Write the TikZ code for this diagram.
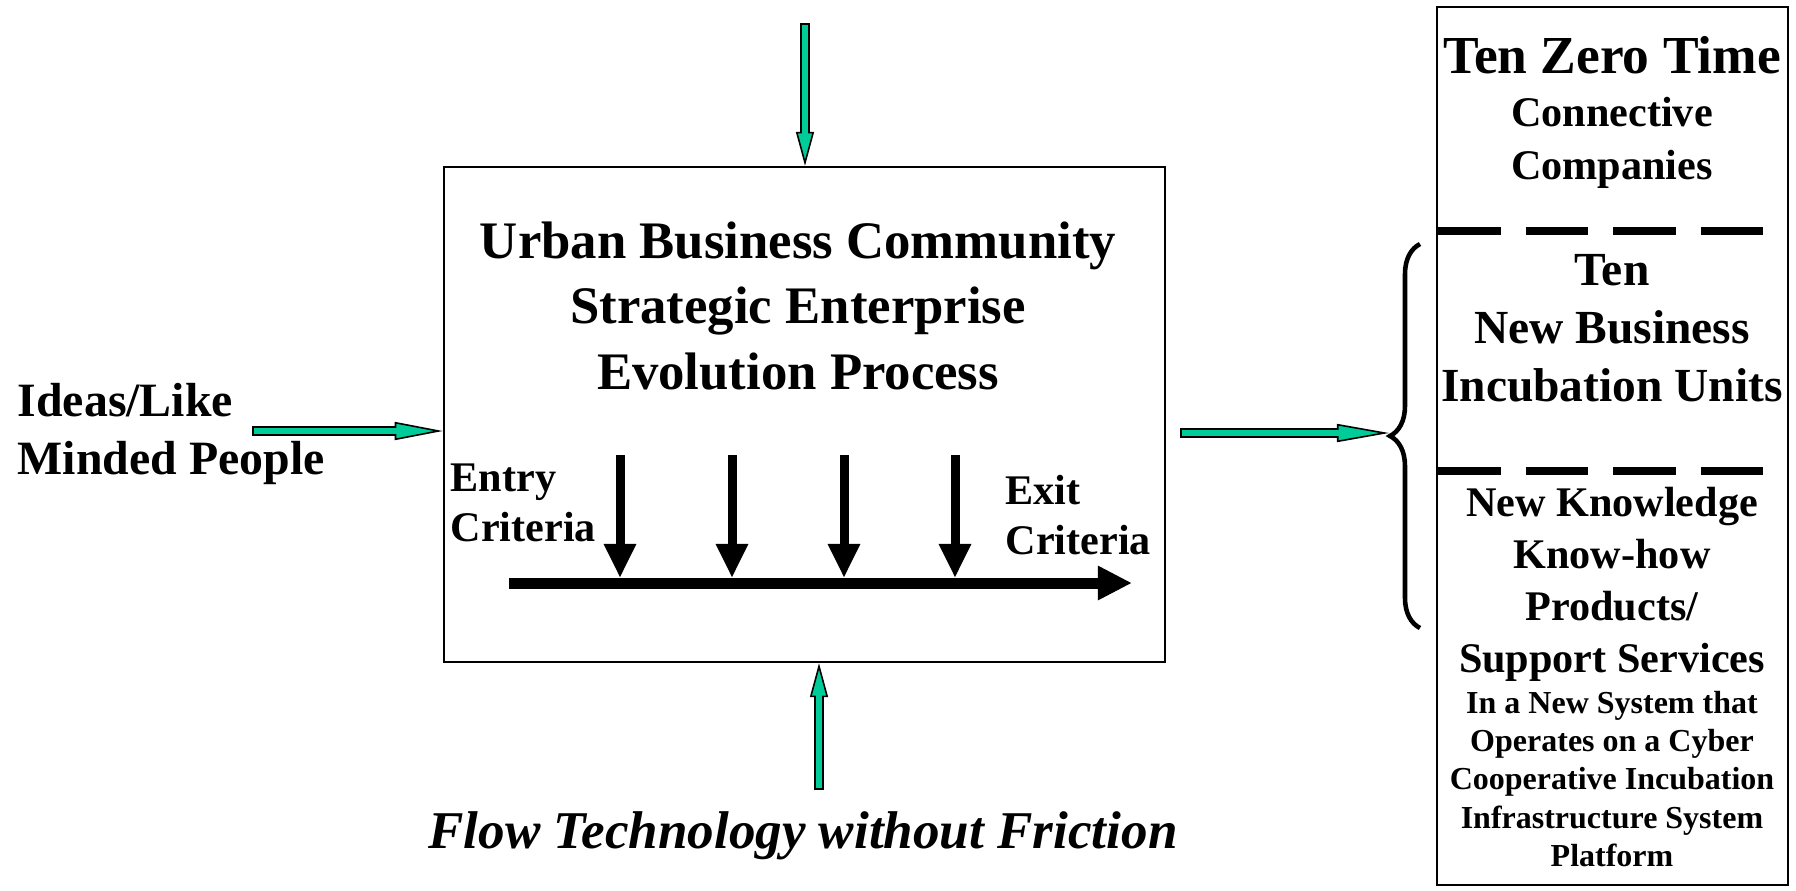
\documentclass[tikz,border=0pt]{standalone}
\usepackage{fontspec}
\setmainfont{Liberation Serif}
\usetikzlibrary{arrows.meta,decorations.pathreplacing}

\definecolor{flowgreen}{RGB}{0,204,153}

\tikzset{
  txt/.style={font=\bfseries, align=center, inner sep=0pt},
  panel/.style={draw, line width=0.6pt, inner sep=0pt},
  greenarrow/.style={draw=black, line width=2.6pt,
    -{Triangle[length=#1,width=0.18cm,fill=flowgreen,line width=0.45pt]},
    postaction={draw=flowgreen, line width=1.8pt, -, shorten >=#1-1pt, shorten <=0.45pt}},
  greenarrow/.default=0.34cm,
  timeline/.style={line width=0.11cm, -{Triangle[length=0.34cm,width=0.32cm]}},
  stagearrow/.style={line width=0.09cm, -{Triangle[length=0.34cm,width=0.30cm]}},
  divider/.style={line width=2pt, dash pattern=on 0.625cm off 0.25cm},
}

\begin{document}
\begin{tikzpicture}[x=0.01cm, y=-0.01cm]
    \useasboundingbox (0,0) rectangle (1796,890);

    % process box
    \node[panel, minimum width=7.21cm, minimum height=4.95cm] (process) at (804.5,414.5) {};
    \node[txt, font=\bfseries\fontsize{15}{18.5}\selectfont] (title) at (798,306)
      {Urban Business Community\\Strategic Enterprise\\Evolution Process};
    \node[txt, font=\bfseries\fontsize{12}{14.2}\selectfont, align=left, anchor=west] (entry) at (450,503)
      {Entry\\Criteria};
    \node[txt, font=\bfseries\fontsize{12}{14.2}\selectfont, align=left, anchor=west] (exit) at (1005,515)
      {Exit\\Criteria};
    \coordinate (tlstart) at (509,583);
    \coordinate (tlend) at (1132,583);
    \draw[timeline] (tlstart) -- (tlend);
    \foreach \x in {620,732,844,955}
      \draw[stagearrow] (\x,455) -- (\x,578);

    % inputs
    \node[txt, font=\bfseries\fontsize{13.6}{16.3}\selectfont, align=left, anchor=west] (ideas) at (17,434)
      {Ideas/Like\\Minded People};
    \node[txt, font=\bfseries\itshape\fontsize{15.1}{18}\selectfont] (flow) at (803,836)
      {Flow Technology without Friction};
    \coordinate (ideasout) at (252,431);
    \coordinate (topin) at (805,23);
    \coordinate (botin) at (819,790);
    \draw[greenarrow=0.48cm] (ideasout) -- (ideasout -| process.west);
    \draw[greenarrow] (topin) -- (topin |- process.north);
    \draw[greenarrow] (botin) -- (botin |- process.south);

    % outcomes
    \node[panel, minimum width=3.51cm, minimum height=8.78cm] (outcome) at (1612.5,446) {};
    \node[txt, font=\bfseries\fontsize{15.2}{18}\selectfont] (zero) at (1612,55) {Ten Zero Time};
    \node[txt, font=\bfseries\fontsize{12}{15}\selectfont] (connective) at (1612,143)
      {Connective\\Companies};
    \coordinate (cut1) at (1438,231);
    \coordinate (cut2) at (1438,471);
    \draw[divider] (cut1) -- ++(328,0);
    \draw[divider] (cut2) -- ++(328,0);
    \node[txt, font=\bfseries\fontsize{13.5}{16.5}\selectfont] (units) at (1612,328)
      {Ten\\New Business\\Incubation Units};
    \node[txt, font=\bfseries\fontsize{12}{14.8}\selectfont] (knowledge) at (1612,584)
      {New Knowledge\\Know-how\\Products/\\Support Services};
    \node[txt, font=\bfseries\fontsize{9.1}{10.9}\selectfont] (system) at (1612,779)
      {In a New System that\\Operates on a Cyber\\Cooperative Incubation\\Infrastructure System\\Platform};

    % brace and output arrow
    \draw[line width=1.3pt, decorate, decoration={brace, amplitude=0.3cm}] (1420,628) -- (1420,244);
    \coordinate (bracetip) at (1389,433);
    \coordinate (outstart) at (1180,433);
    \draw[greenarrow=0.52cm] (outstart) -- (bracetip);
\end{tikzpicture}
\end{document}
